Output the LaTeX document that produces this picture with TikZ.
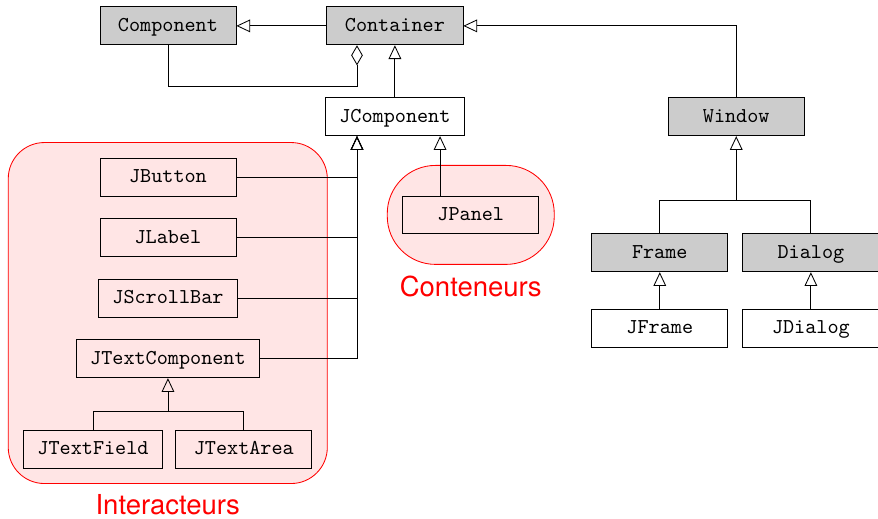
\documentclass[tikz,border=0pt]{standalone}
\usepackage{fontspec}
\usepackage{tikz}
\usetikzlibrary{arrows.meta,positioning,fit,backgrounds}
\newfontfamily\grouplabelfont{TeX Gyre Heros}
\definecolor{boxgray}{RGB}{204,204,204}

\begin{document}
\begin{tikzpicture}[
    cls/.style={draw, font=\ttfamily, minimum width=2.26cm, minimum height=0.63cm, inner xsep=6.5pt,
                text height=1.6ex, text depth=0.4ex},
    abstract/.style={cls, fill=boxgray},
    inherit/.style={-{Triangle[open,length=6.5pt,width=6pt]}},
    aggreg/.style={-{Diamond[open,length=9.5pt,width=5.5pt]}},
    group/.style={draw=red, fill=red!10, rounded corners=#1},
    grouplabel/.style={text=red, inner sep=0.5pt, font=\grouplabelfont\fontsize{13}{15}\selectfont}
  ]
    \useasboundingbox (0,0) rectangle (14.585,-8.621);

    % AWT classes
    \node[abstract] (Component) at (2.79,-0.43) {Component};
    \node[abstract] (Container) at (6.56,-0.43) {Container};
    \node[abstract] (Window) at (12.23,-1.94) {Window};
    \node[abstract] (Frame) at (10.96,-4.20) {Frame};
    \node[abstract] (Dialog) at (13.47,-4.20) {Dialog};

    % Swing classes
    \node[cls] (JComponent) at (6.56,-1.94) {JComponent};
    \node[cls] (JButton) at (2.79,-2.94) {JButton};
    \node[cls] (JLabel) at (2.79,-3.95) {JLabel};
    \node[cls] (JScrollBar) at (2.79,-4.95) {JScrollBar};
    \node[cls] (JTextComponent) at (2.79,-5.96) {JTextComponent};
    \node[cls] (JTextField) at (1.545,-7.46) {JTextField};
    \node[cls] (JTextArea) at (4.05,-7.46) {JTextArea};
    \node[cls] (JPanel) at (7.82,-3.57) {JPanel};
    \node[cls] (JFrame) at (10.96,-5.45) {JFrame};
    \node[cls] (JDialog) at (13.47,-5.45) {JDialog};

    % Groups
    \begin{scope}[on background layer]
        \node[group=0.6cm, inner sep=0.25cm, fit=(JButton) (JTextField) (JTextArea)] (inter) {};
        \node[group=0.8cm, inner xsep=0.25cm, inner ysep=0.5cm, fit=(JPanel)] (cont) {};
    \end{scope}
    \node[grouplabel, below=4.3pt of inter] (interlabel) {Interacteurs};
    \node[grouplabel, below=4.8pt of cont] (contlabel) {Conteneurs};

    % Top of the hierarchy
    \coordinate (ctL) at ([xshift=-0.63cm]Container.south);
    \draw[inherit] (Container) -- (Component);
    \draw[aggreg] (Component.south) -- ++(0,-0.68) -| (ctL);
    \draw[inherit] (JComponent) -- (Container);
    \draw[inherit] (Window.north) |- (Container.east);

    % Interactors
    \coordinate (jcL) at ([xshift=-0.63cm]JComponent.south);
    \draw[inherit] (JButton.east) -| (jcL);
    \draw[inherit] (JLabel.east) -| (jcL);
    \draw[inherit] (JScrollBar.east) -| (jcL);
    \draw[inherit] (JTextComponent.east) -| (jcL);
    \coordinate (tb) at ([yshift=-0.55cm]JTextComponent.south);
    \draw (JTextArea.north) |- (tb);
    \draw[inherit] (JTextField.north) |- (tb) -- (JTextComponent.south);

    % Containers
    \coordinate (jcR) at ([xshift=0.75cm]JComponent.south);
    \draw[inherit] (JPanel.north -| jcR) -- (jcR);

    % Windows
    \coordinate (wb) at ([yshift=-1.06cm]Window.south);
    \draw (Dialog.north) |- (wb);
    \draw[inherit] (Frame.north) |- (wb) -- (Window.south);
    \draw[inherit] (JFrame) -- (Frame);
    \draw[inherit] (JDialog) -- (Dialog);
\end{tikzpicture}
\end{document}
